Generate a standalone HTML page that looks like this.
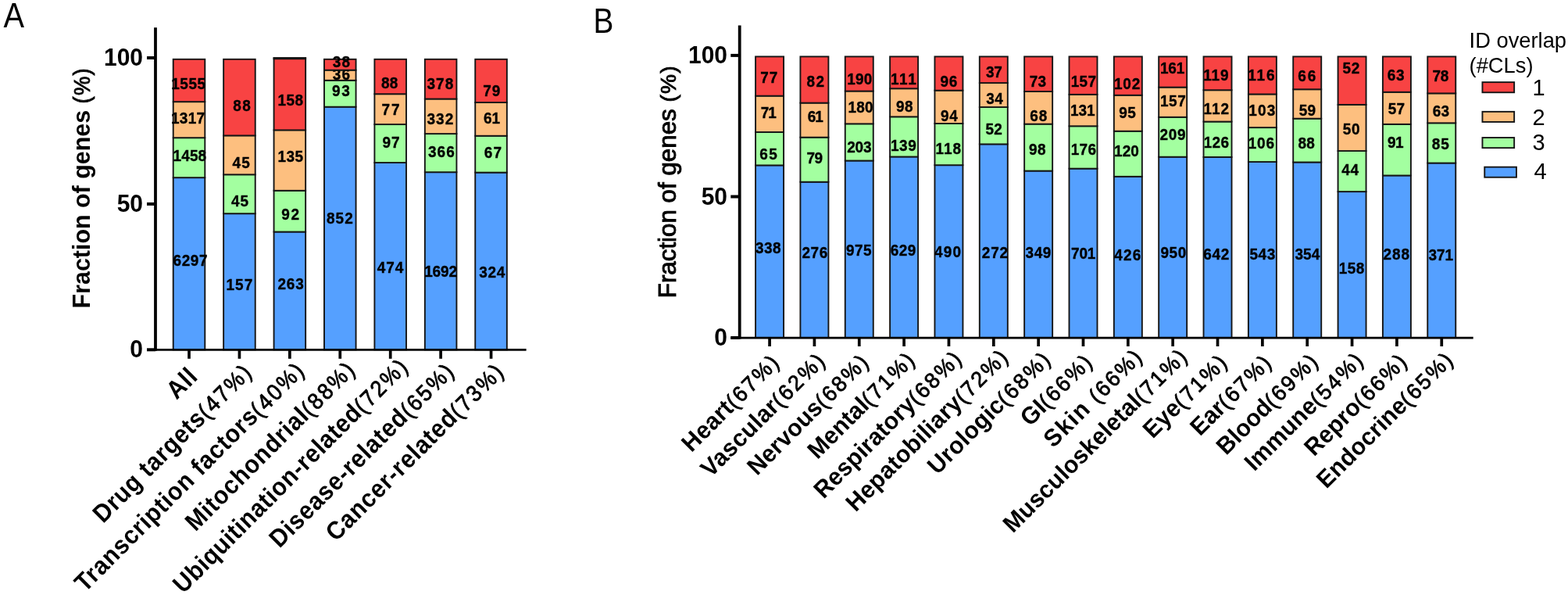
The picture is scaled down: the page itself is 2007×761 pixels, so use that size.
<!DOCTYPE html><html><head><meta charset="utf-8"><title>Figure</title><style>
html,body{margin:0;padding:0;background:#fff;}
svg{display:block;}
text{font-family:"Liberation Sans",sans-serif;fill:#000;}
.n{font-size:19px;font-weight:bold;text-anchor:middle;stroke:#000;stroke-width:0.35px;}
.tl{font-size:30px;font-weight:bold;text-anchor:end;}
.xl{font-size:30px;font-weight:bold;text-anchor:start;}
.pc{font-weight:normal;font-size:27px;stroke:#000;stroke-width:0.8px;}
.yt{font-size:30px;font-weight:bold;text-anchor:middle;}
.ax{stroke:#000;stroke-width:4;fill:none;}
.xt{stroke-width:3.7;}
.lg{font-size:26.5px;}
</style></head><body>
<svg width="2007" height="761" viewBox="0 0 2007 761">
<rect width="2007" height="761" fill="#fff"/>
<text transform="translate(4.6,34.6) scale(1,1.135)" style="font-size:39.8px">A</text>
<text transform="translate(759.6,41.7) scale(1,1.165)" style="font-size:38.8px">B</text>
<text class="yt" transform="translate(114.7,240.3) rotate(-90) scale(1.014,1.06)">Fraction of genes <tspan style="font-weight:normal;font-size:27px;stroke:#000;stroke-width:0.8px" letter-spacing="1.2">(%)</tspan></text>
<text class="yt" transform="translate(865.0,232.1) rotate(-90) scale(1.044,1.02)" style="font-weight:normal;stroke:#000;stroke-width:0.9px">Fraction of genes <tspan style="font-size:27px;stroke-width:0.8px" letter-spacing="1.2">(%)</tspan></text>
<rect x="221.71" y="227.17" width="40.60" height="220.13" fill="#55a0ff" stroke="#151515" stroke-width="1.9"/>
<text class="n" transform="translate(243.80,340.14) scale(1,1.05)" letter-spacing="0.60">6297</text>
<rect x="221.71" y="176.20" width="40.60" height="50.97" fill="#a3ffa0" stroke="#151515" stroke-width="1.9"/>
<text class="n" transform="translate(242.88,205.74) scale(1,1.05)" letter-spacing="0.17">1458</text>
<rect x="221.71" y="130.16" width="40.60" height="46.04" fill="#fdbf7f" stroke="#151515" stroke-width="1.9"/>
<text class="n" transform="translate(240.66,157.54) scale(1,1.05)" letter-spacing="0.33">1317</text>
<rect x="221.71" y="75.80" width="40.60" height="54.36" fill="#f84343" stroke="#151515" stroke-width="1.9"/>
<text class="n" transform="translate(241.38,113.74) scale(1,1.05)" letter-spacing="0.56">1555</text>
<rect x="286.13" y="273.19" width="40.60" height="174.11" fill="#55a0ff" stroke="#151515" stroke-width="1.9"/>
<text class="n" transform="translate(306.98,370.94) scale(1,1.05)" letter-spacing="1.16">157</text>
<rect x="286.13" y="223.29" width="40.60" height="49.90" fill="#a3ffa0" stroke="#151515" stroke-width="1.9"/>
<text class="n" transform="translate(307.39,263.94) scale(1,1.05)" letter-spacing="0.78">45</text>
<rect x="286.13" y="173.39" width="40.60" height="49.90" fill="#fdbf7f" stroke="#151515" stroke-width="1.9"/>
<text class="n" transform="translate(309.25,214.54) scale(1,1.05)" letter-spacing="1.10">45</text>
<rect x="286.13" y="75.80" width="40.60" height="97.59" fill="#f84343" stroke="#151515" stroke-width="1.9"/>
<text class="n" transform="translate(310.29,141.54) scale(1,1.05)" letter-spacing="1.58">88</text>
<rect x="350.56" y="296.52" width="40.60" height="150.78" fill="#55a0ff" stroke="#151515" stroke-width="1.9"/>
<text class="n" transform="translate(372.48,369.74) scale(1,1.05)" letter-spacing="0.76">263</text>
<rect x="350.56" y="243.78" width="40.60" height="52.74" fill="#a3ffa0" stroke="#151515" stroke-width="1.9"/>
<text class="n" transform="translate(372.49,280.94) scale(1,1.05)" letter-spacing="1.58">92</text>
<rect x="350.56" y="166.38" width="40.60" height="77.40" fill="#fdbf7f" stroke="#151515" stroke-width="1.9"/>
<text class="n" transform="translate(371.92,206.74) scale(1,1.05)" letter-spacing="0.44">135</text>
<rect x="350.56" y="74.10" width="40.60" height="92.28" fill="#f84343" stroke="#151515" stroke-width="1.9"/>
<text class="n" transform="translate(371.92,134.54) scale(1,1.05)" letter-spacing="0.44">158</text>
<rect x="414.98" y="136.68" width="40.60" height="310.62" fill="#55a0ff" stroke="#151515" stroke-width="1.9"/>
<text class="n" transform="translate(435.48,285.54) scale(1,1.05)" letter-spacing="1.16">852</text>
<rect x="414.98" y="102.78" width="40.60" height="33.91" fill="#a3ffa0" stroke="#151515" stroke-width="1.9"/>
<text class="n" transform="translate(437.31,122.54) scale(1,1.05)" letter-spacing="1.82">93</text>
<rect x="414.98" y="89.65" width="40.60" height="13.12" fill="#fdbf7f" stroke="#151515" stroke-width="1.9"/>
<text class="n" transform="translate(437.41,101.94) scale(1,1.05)" letter-spacing="1.02">36</text>
<rect x="414.98" y="75.80" width="40.60" height="13.85" fill="#f84343" stroke="#151515" stroke-width="1.9"/>
<text class="n" transform="translate(437.61,85.94) scale(1,1.05)" letter-spacing="1.42">38</text>
<rect x="479.41" y="208.05" width="40.60" height="239.25" fill="#55a0ff" stroke="#151515" stroke-width="1.9"/>
<text class="n" transform="translate(499.98,349.34) scale(1,1.05)" letter-spacing="0.96">474</text>
<rect x="479.41" y="159.08" width="40.60" height="48.96" fill="#a3ffa0" stroke="#151515" stroke-width="1.9"/>
<text class="n" transform="translate(501.01,189.14) scale(1,1.05)" letter-spacing="1.02">97</text>
<rect x="479.41" y="120.22" width="40.60" height="38.87" fill="#fdbf7f" stroke="#151515" stroke-width="1.9"/>
<text class="n" transform="translate(500.91,146.54) scale(1,1.05)" letter-spacing="1.82">77</text>
<rect x="479.41" y="75.80" width="40.60" height="44.42" fill="#f84343" stroke="#151515" stroke-width="1.9"/>
<text class="n" transform="translate(498.81,112.99) scale(1,1.05)" letter-spacing="0.22">88</text>
<rect x="543.84" y="220.21" width="40.60" height="227.09" fill="#55a0ff" stroke="#151515" stroke-width="1.9"/>
<text class="n" transform="translate(564.05,353.94) scale(1,1.05)" letter-spacing="-0.10">1692</text>
<rect x="543.84" y="171.09" width="40.60" height="49.12" fill="#a3ffa0" stroke="#151515" stroke-width="1.9"/>
<text class="n" transform="translate(565.46,201.14) scale(1,1.05)" letter-spacing="1.12">366</text>
<rect x="543.84" y="126.53" width="40.60" height="44.56" fill="#fdbf7f" stroke="#151515" stroke-width="1.9"/>
<text class="n" transform="translate(563.90,159.34) scale(1,1.05)" letter-spacing="1.00">332</text>
<rect x="543.84" y="75.80" width="40.60" height="50.73" fill="#f84343" stroke="#151515" stroke-width="1.9"/>
<text class="n" transform="translate(563.90,113.94) scale(1,1.05)" letter-spacing="1.00">378</text>
<rect x="608.26" y="220.62" width="40.60" height="226.68" fill="#55a0ff" stroke="#151515" stroke-width="1.9"/>
<text class="n" transform="translate(630.18,354.94) scale(1,1.05)" letter-spacing="0.76">324</text>
<rect x="608.26" y="173.75" width="40.60" height="46.87" fill="#a3ffa0" stroke="#151515" stroke-width="1.9"/>
<text class="n" transform="translate(631.39,201.94) scale(1,1.05)" letter-spacing="1.18">67</text>
<rect x="608.26" y="131.07" width="40.60" height="42.68" fill="#fdbf7f" stroke="#151515" stroke-width="1.9"/>
<text class="n" transform="translate(629.55,157.54) scale(1,1.05)" letter-spacing="-0.10">61</text>
<rect x="608.26" y="75.80" width="40.60" height="55.27" fill="#f84343" stroke="#151515" stroke-width="1.9"/>
<text class="n" transform="translate(629.81,122.54) scale(1,1.05)" letter-spacing="1.02">79</text>
<rect x="349.61" y="73.3" width="42.50" height="2.9" fill="#151515"/>
<line x1="199.0" y1="35.3" x2="199.0" y2="448.7" class="ax" style="stroke-width:3.8"/>
<line x1="188.0" y1="74.0" x2="199.0" y2="74.0" class="ax"/>
<text class="tl" transform="translate(183.0,84.00) scale(1,1.06)">100</text>
<line x1="188.0" y1="260.9" x2="199.0" y2="260.9" class="ax"/>
<text class="tl" transform="translate(183.0,270.90) scale(1,1.06)">50</text>
<line x1="188.0" y1="447.3" x2="199.0" y2="447.3" class="ax"/>
<text class="tl" transform="translate(183.0,457.30) scale(1,1.06)">0</text>
<line x1="188.0" y1="447.40000000000003" x2="673.6" y2="447.40000000000003" class="ax" style="stroke-width:2.9"/>
<line x1="242.01" y1="447.3" x2="242.01" y2="458.8" class="ax xt"/>
<text class="xl" transform="translate(225.96,512.07) rotate(-45) scale(1,1.08)"><tspan letter-spacing="0.863">All</tspan></text>
<line x1="306.44" y1="447.3" x2="306.44" y2="458.8" class="ax xt"/>
<text class="xl" transform="translate(132.03,670.14) rotate(-45) scale(1,1.08)"><tspan letter-spacing="0.827">Drug targets</tspan><tspan class="pc" letter-spacing="2.600">(47%)</tspan></text>
<line x1="370.86" y1="447.3" x2="370.86" y2="458.8" class="ax xt"/>
<text class="xl" transform="translate(108.67,758.49) rotate(-45) scale(1,1.08)"><tspan letter-spacing="0.863">Transcription factors</tspan><tspan class="pc" letter-spacing="2.600">(40%)</tspan></text>
<line x1="435.28" y1="447.3" x2="435.28" y2="458.8" class="ax xt"/>
<text class="xl" transform="translate(250.27,680.75) rotate(-45) scale(1,1.08)"><tspan letter-spacing="0.865">Mitochondrial</tspan><tspan class="pc" letter-spacing="2.600">(88%)</tspan></text>
<line x1="499.71" y1="447.3" x2="499.71" y2="458.8" class="ax xt"/>
<text class="xl" transform="translate(234.55,760.33) rotate(-45) scale(1,1.08)"><tspan letter-spacing="0.725">Ubiquitination-related</tspan><tspan class="pc" letter-spacing="2.600">(72%)</tspan></text>
<line x1="564.13" y1="447.3" x2="564.13" y2="458.8" class="ax xt"/>
<text class="xl" transform="translate(357.81,701.92) rotate(-45) scale(1,1.08)"><tspan letter-spacing="0.899">Disease-related</tspan><tspan class="pc" letter-spacing="2.600">(65%)</tspan></text>
<line x1="628.56" y1="447.3" x2="628.56" y2="458.8" class="ax xt"/>
<text class="xl" transform="translate(430.12,693.68) rotate(-45) scale(1,1.08)"><tspan letter-spacing="0.897">Cancer-related</tspan><tspan class="pc" letter-spacing="2.600">(73%)</tspan></text>
<rect x="967.08" y="211.41" width="36.00" height="220.59" fill="#55a0ff" stroke="#151515" stroke-width="1.9"/>
<text class="n" transform="translate(983.54,324.34) scale(1,1.05)" letter-spacing="0.48">338</text>
<rect x="967.08" y="168.99" width="36.00" height="42.42" fill="#a3ffa0" stroke="#151515" stroke-width="1.9"/>
<text class="n" transform="translate(984.25,203.74) scale(1,1.05)" letter-spacing="1.50">65</text>
<rect x="967.08" y="122.65" width="36.00" height="46.34" fill="#fdbf7f" stroke="#151515" stroke-width="1.9"/>
<text class="n" transform="translate(983.31,151.14) scale(1,1.05)" letter-spacing="-0.98">71</text>
<rect x="967.08" y="72.40" width="36.00" height="50.25" fill="#f84343" stroke="#151515" stroke-width="1.9"/>
<text class="n" transform="translate(984.69,105.74) scale(1,1.05)" letter-spacing="0.78">77</text>
<rect x="1024.42" y="232.70" width="36.00" height="199.30" fill="#55a0ff" stroke="#151515" stroke-width="1.9"/>
<text class="n" transform="translate(1043.14,329.54) scale(1,1.05)" letter-spacing="0.48">276</text>
<rect x="1024.42" y="175.66" width="36.00" height="57.04" fill="#a3ffa0" stroke="#151515" stroke-width="1.9"/>
<text class="n" transform="translate(1042.45,208.74) scale(1,1.05)" letter-spacing="-0.50">79</text>
<rect x="1024.42" y="131.61" width="36.00" height="44.05" fill="#fdbf7f" stroke="#151515" stroke-width="1.9"/>
<text class="n" transform="translate(1043.17,156.34) scale(1,1.05)" letter-spacing="-1.06">61</text>
<rect x="1024.42" y="72.40" width="36.00" height="59.21" fill="#f84343" stroke="#151515" stroke-width="1.9"/>
<text class="n" transform="translate(1044.45,110.54) scale(1,1.05)" letter-spacing="1.50">82</text>
<rect x="1081.77" y="205.51" width="36.00" height="226.49" fill="#55a0ff" stroke="#151515" stroke-width="1.9"/>
<text class="n" transform="translate(1099.54,327.14) scale(1,1.05)" letter-spacing="0.48">975</text>
<rect x="1081.77" y="158.35" width="36.00" height="47.16" fill="#a3ffa0" stroke="#151515" stroke-width="1.9"/>
<text class="n" transform="translate(1099.80,194.74) scale(1,1.05)" letter-spacing="-0.20">203</text>
<rect x="1081.77" y="116.54" width="36.00" height="41.81" fill="#fdbf7f" stroke="#151515" stroke-width="1.9"/>
<text class="n" transform="translate(1101.68,144.14) scale(1,1.05)" letter-spacing="0.16">180</text>
<rect x="1081.77" y="72.40" width="36.00" height="44.14" fill="#f84343" stroke="#151515" stroke-width="1.9"/>
<text class="n" transform="translate(1100.28,107.54) scale(1,1.05)" letter-spacing="0.16">190</text>
<rect x="1139.12" y="200.49" width="36.00" height="231.51" fill="#55a0ff" stroke="#151515" stroke-width="1.9"/>
<text class="n" transform="translate(1156.34,326.54) scale(1,1.05)" letter-spacing="0.48">629</text>
<rect x="1139.12" y="149.33" width="36.00" height="51.16" fill="#a3ffa0" stroke="#151515" stroke-width="1.9"/>
<text class="n" transform="translate(1156.68,193.14) scale(1,1.05)" letter-spacing="0.56">139</text>
<rect x="1139.12" y="113.26" width="36.00" height="36.07" fill="#fdbf7f" stroke="#151515" stroke-width="1.9"/>
<text class="n" transform="translate(1158.11,143.14) scale(1,1.05)" letter-spacing="0.62">98</text>
<rect x="1139.12" y="72.40" width="36.00" height="40.86" fill="#f84343" stroke="#151515" stroke-width="1.9"/>
<text class="n" transform="translate(1157.18,107.54) scale(1,1.05)" letter-spacing="1.56">111</text>
<rect x="1196.46" y="211.19" width="36.00" height="220.81" fill="#55a0ff" stroke="#151515" stroke-width="1.9"/>
<text class="n" transform="translate(1213.68,329.14) scale(1,1.05)" letter-spacing="1.16">490</text>
<rect x="1196.46" y="158.02" width="36.00" height="53.17" fill="#a3ffa0" stroke="#151515" stroke-width="1.9"/>
<text class="n" transform="translate(1214.20,196.74) scale(1,1.05)" letter-spacing="1.00">118</text>
<rect x="1196.46" y="115.66" width="36.00" height="42.36" fill="#fdbf7f" stroke="#151515" stroke-width="1.9"/>
<text class="n" transform="translate(1215.31,155.14) scale(1,1.05)" letter-spacing="0.62">94</text>
<rect x="1196.46" y="72.40" width="36.00" height="43.26" fill="#f84343" stroke="#151515" stroke-width="1.9"/>
<text class="n" transform="translate(1214.71,110.54) scale(1,1.05)" letter-spacing="0.62">96</text>
<rect x="1253.81" y="184.38" width="36.00" height="247.62" fill="#55a0ff" stroke="#151515" stroke-width="1.9"/>
<text class="n" transform="translate(1273.90,330.34) scale(1,1.05)" letter-spacing="0.80">272</text>
<rect x="1253.81" y="137.04" width="36.00" height="47.34" fill="#a3ffa0" stroke="#151515" stroke-width="1.9"/>
<text class="n" transform="translate(1272.21,172.14) scale(1,1.05)" letter-spacing="0.22">52</text>
<rect x="1253.81" y="106.08" width="36.00" height="30.95" fill="#fdbf7f" stroke="#151515" stroke-width="1.9"/>
<text class="n" transform="translate(1273.29,132.54) scale(1,1.05)" letter-spacing="0.38">34</text>
<rect x="1253.81" y="72.40" width="36.00" height="33.68" fill="#f84343" stroke="#151515" stroke-width="1.9"/>
<text class="n" transform="translate(1272.35,99.14) scale(1,1.05)" letter-spacing="-0.10">37</text>
<rect x="1311.15" y="218.56" width="36.00" height="213.44" fill="#55a0ff" stroke="#151515" stroke-width="1.9"/>
<text class="n" transform="translate(1329.30,329.74) scale(1,1.05)" letter-spacing="0.60">349</text>
<rect x="1311.15" y="158.63" width="36.00" height="59.93" fill="#a3ffa0" stroke="#151515" stroke-width="1.9"/>
<text class="n" transform="translate(1328.11,197.74) scale(1,1.05)" letter-spacing="0.62">98</text>
<rect x="1311.15" y="117.04" width="36.00" height="41.59" fill="#fdbf7f" stroke="#151515" stroke-width="1.9"/>
<text class="n" transform="translate(1329.69,155.14) scale(1,1.05)" letter-spacing="0.78">68</text>
<rect x="1311.15" y="72.40" width="36.00" height="44.64" fill="#f84343" stroke="#151515" stroke-width="1.9"/>
<text class="n" transform="translate(1328.41,110.94) scale(1,1.05)" letter-spacing="0.22">73</text>
<rect x="1368.49" y="215.62" width="36.00" height="216.38" fill="#55a0ff" stroke="#151515" stroke-width="1.9"/>
<text class="n" transform="translate(1386.60,330.54) scale(1,1.05)" letter-spacing="-0.20">701</text>
<rect x="1368.49" y="161.30" width="36.00" height="54.33" fill="#a3ffa0" stroke="#151515" stroke-width="1.9"/>
<text class="n" transform="translate(1387.08,197.74) scale(1,1.05)" letter-spacing="0.36">176</text>
<rect x="1368.49" y="120.86" width="36.00" height="40.44" fill="#fdbf7f" stroke="#151515" stroke-width="1.9"/>
<text class="n" transform="translate(1385.66,147.54) scale(1,1.05)" letter-spacing="-0.08">131</text>
<rect x="1368.49" y="72.40" width="36.00" height="48.46" fill="#f84343" stroke="#151515" stroke-width="1.9"/>
<text class="n" transform="translate(1387.08,110.94) scale(1,1.05)" letter-spacing="0.36">157</text>
<rect x="1425.84" y="225.82" width="36.00" height="206.18" fill="#55a0ff" stroke="#151515" stroke-width="1.9"/>
<text class="n" transform="translate(1443.88,332.94) scale(1,1.05)" letter-spacing="1.16">426</text>
<rect x="1425.84" y="167.74" width="36.00" height="58.08" fill="#a3ffa0" stroke="#151515" stroke-width="1.9"/>
<text class="n" transform="translate(1441.90,199.74) scale(1,1.05)" letter-spacing="0.00">120</text>
<rect x="1425.84" y="121.77" width="36.00" height="45.98" fill="#fdbf7f" stroke="#151515" stroke-width="1.9"/>
<text class="n" transform="translate(1443.29,150.54) scale(1,1.05)" letter-spacing="0.38">95</text>
<rect x="1425.84" y="72.40" width="36.00" height="49.37" fill="#f84343" stroke="#151515" stroke-width="1.9"/>
<text class="n" transform="translate(1443.02,113.94) scale(1,1.05)" letter-spacing="0.84">102</text>
<rect x="1483.18" y="200.71" width="36.00" height="231.29" fill="#55a0ff" stroke="#151515" stroke-width="1.9"/>
<text class="n" transform="translate(1502.14,330.34) scale(1,1.05)" letter-spacing="0.48">950</text>
<rect x="1483.18" y="149.82" width="36.00" height="50.88" fill="#a3ffa0" stroke="#151515" stroke-width="1.9"/>
<text class="n" transform="translate(1501.46,179.14) scale(1,1.05)" letter-spacing="0.72">209</text>
<rect x="1483.18" y="111.60" width="36.00" height="38.22" fill="#fdbf7f" stroke="#151515" stroke-width="1.9"/>
<text class="n" transform="translate(1501.68,135.54) scale(1,1.05)" letter-spacing="0.56">157</text>
<rect x="1483.18" y="72.40" width="36.00" height="39.20" fill="#f84343" stroke="#151515" stroke-width="1.9"/>
<text class="n" transform="translate(1500.50,93.94) scale(1,1.05)" letter-spacing="-0.20">161</text>
<rect x="1540.53" y="200.91" width="36.00" height="231.09" fill="#55a0ff" stroke="#151515" stroke-width="1.9"/>
<text class="n" transform="translate(1557.10,331.94) scale(1,1.05)" letter-spacing="0.60">642</text>
<rect x="1540.53" y="155.55" width="36.00" height="45.35" fill="#a3ffa0" stroke="#151515" stroke-width="1.9"/>
<text class="n" transform="translate(1557.08,189.14) scale(1,1.05)" letter-spacing="0.36">126</text>
<rect x="1540.53" y="115.24" width="36.00" height="40.32" fill="#fdbf7f" stroke="#151515" stroke-width="1.9"/>
<text class="n" transform="translate(1557.38,146.14) scale(1,1.05)" letter-spacing="0.96">112</text>
<rect x="1540.53" y="72.40" width="36.00" height="42.84" fill="#f84343" stroke="#151515" stroke-width="1.9"/>
<text class="n" transform="translate(1556.78,102.54) scale(1,1.05)" letter-spacing="0.76">119</text>
<rect x="1597.88" y="207.04" width="36.00" height="224.96" fill="#55a0ff" stroke="#151515" stroke-width="1.9"/>
<text class="n" transform="translate(1616.14,332.14) scale(1,1.05)" letter-spacing="0.48">543</text>
<rect x="1597.88" y="163.13" width="36.00" height="43.91" fill="#a3ffa0" stroke="#151515" stroke-width="1.9"/>
<text class="n" transform="translate(1614.86,189.74) scale(1,1.05)" letter-spacing="0.92">106</text>
<rect x="1597.88" y="120.46" width="36.00" height="42.67" fill="#fdbf7f" stroke="#151515" stroke-width="1.9"/>
<text class="n" transform="translate(1616.00,147.54) scale(1,1.05)" letter-spacing="1.20">103</text>
<rect x="1597.88" y="72.40" width="36.00" height="48.06" fill="#f84343" stroke="#151515" stroke-width="1.9"/>
<text class="n" transform="translate(1615.26,102.94) scale(1,1.05)" letter-spacing="1.72">116</text>
<rect x="1655.22" y="207.49" width="36.00" height="224.51" fill="#55a0ff" stroke="#151515" stroke-width="1.9"/>
<text class="n" transform="translate(1673.44,331.94) scale(1,1.05)" letter-spacing="0.08">354</text>
<rect x="1655.22" y="151.68" width="36.00" height="55.81" fill="#a3ffa0" stroke="#151515" stroke-width="1.9"/>
<text class="n" transform="translate(1672.17,189.74) scale(1,1.05)" letter-spacing="0.14">88</text>
<rect x="1655.22" y="114.26" width="36.00" height="37.42" fill="#fdbf7f" stroke="#151515" stroke-width="1.9"/>
<text class="n" transform="translate(1673.41,147.54) scale(1,1.05)" letter-spacing="0.22">59</text>
<rect x="1655.22" y="72.40" width="36.00" height="41.86" fill="#f84343" stroke="#151515" stroke-width="1.9"/>
<text class="n" transform="translate(1673.71,103.94) scale(1,1.05)" letter-spacing="1.82">66</text>
<rect x="1712.57" y="245.10" width="36.00" height="186.90" fill="#55a0ff" stroke="#151515" stroke-width="1.9"/>
<text class="n" transform="translate(1730.26,349.54) scale(1,1.05)" letter-spacing="0.52">158</text>
<rect x="1712.57" y="193.06" width="36.00" height="52.05" fill="#a3ffa0" stroke="#151515" stroke-width="1.9"/>
<text class="n" transform="translate(1728.55,223.54) scale(1,1.05)" letter-spacing="0.70">44</text>
<rect x="1712.57" y="133.91" width="36.00" height="59.14" fill="#fdbf7f" stroke="#151515" stroke-width="1.9"/>
<text class="n" transform="translate(1730.05,172.14) scale(1,1.05)" letter-spacing="0.70">50</text>
<rect x="1712.57" y="72.40" width="36.00" height="61.51" fill="#f84343" stroke="#151515" stroke-width="1.9"/>
<text class="n" transform="translate(1729.71,94.14) scale(1,1.05)" letter-spacing="0.62">52</text>
<rect x="1769.91" y="224.46" width="36.00" height="207.54" fill="#55a0ff" stroke="#151515" stroke-width="1.9"/>
<text class="n" transform="translate(1787.72,331.94) scale(1,1.05)" letter-spacing="0.84">288</text>
<rect x="1769.91" y="158.88" width="36.00" height="65.58" fill="#a3ffa0" stroke="#151515" stroke-width="1.9"/>
<text class="n" transform="translate(1786.05,189.14) scale(1,1.05)" letter-spacing="-0.50">91</text>
<rect x="1769.91" y="117.80" width="36.00" height="41.08" fill="#fdbf7f" stroke="#151515" stroke-width="1.9"/>
<text class="n" transform="translate(1787.55,146.14) scale(1,1.05)" letter-spacing="0.30">57</text>
<rect x="1769.91" y="72.40" width="36.00" height="45.40" fill="#f84343" stroke="#151515" stroke-width="1.9"/>
<text class="n" transform="translate(1786.91,102.74) scale(1,1.05)" letter-spacing="0.62">63</text>
<rect x="1827.26" y="208.53" width="36.00" height="223.47" fill="#55a0ff" stroke="#151515" stroke-width="1.9"/>
<text class="n" transform="translate(1844.16,332.74) scale(1,1.05)" letter-spacing="-0.08">371</text>
<rect x="1827.26" y="157.33" width="36.00" height="51.20" fill="#a3ffa0" stroke="#151515" stroke-width="1.9"/>
<text class="n" transform="translate(1844.31,191.14) scale(1,1.05)" letter-spacing="1.02">85</text>
<rect x="1827.26" y="119.38" width="36.00" height="37.95" fill="#fdbf7f" stroke="#151515" stroke-width="1.9"/>
<text class="n" transform="translate(1844.57,149.14) scale(1,1.05)" letter-spacing="0.14">63</text>
<rect x="1827.26" y="72.40" width="36.00" height="46.98" fill="#f84343" stroke="#151515" stroke-width="1.9"/>
<text class="n" transform="translate(1843.87,103.94) scale(1,1.05)" letter-spacing="-0.26">78</text>
<line x1="946.7" y1="32.5" x2="946.7" y2="433.4" class="ax" style="stroke-width:3.8"/>
<line x1="935.3" y1="70.9" x2="946.7" y2="70.9" class="ax"/>
<text class="tl" transform="translate(931.0,80.90) scale(1,1.06)">100</text>
<line x1="935.3" y1="251.5" x2="946.7" y2="251.5" class="ax"/>
<text class="tl" transform="translate(931.0,261.50) scale(1,1.06)">50</text>
<line x1="935.3" y1="432.0" x2="946.7" y2="432.0" class="ax"/>
<text class="tl" transform="translate(931.0,442.00) scale(1,1.06)">0</text>
<line x1="935.3" y1="432.1" x2="1885.7" y2="432.1" class="ax" style="stroke-width:2.9"/>
<line x1="985.08" y1="432.0" x2="985.08" y2="443.0" class="ax xt"/>
<text class="xl" transform="translate(885.10,579.42) rotate(-45) scale(1,1.035)"><tspan letter-spacing="0.311">Heart</tspan><tspan class="pc" letter-spacing="2.600">(67%)</tspan></text>
<line x1="1042.42" y1="432.0" x2="1042.42" y2="443.0" class="ax xt"/>
<text class="xl" transform="translate(909.51,611.73) rotate(-45) scale(1,1.035)"><tspan letter-spacing="0.407">Vascular</tspan><tspan class="pc" letter-spacing="2.600">(62%)</tspan></text>
<line x1="1099.77" y1="432.0" x2="1099.77" y2="443.0" class="ax xt"/>
<text class="xl" transform="translate(969.00,609.37) rotate(-45) scale(1,1.035)"><tspan letter-spacing="0.186">Nervous</tspan><tspan class="pc" letter-spacing="2.600">(68%)</tspan></text>
<line x1="1157.12" y1="432.0" x2="1157.12" y2="443.0" class="ax xt"/>
<text class="xl" transform="translate(1046.34,588.45) rotate(-45) scale(1,1.035)"><tspan letter-spacing="0.096">Mental</tspan><tspan class="pc" letter-spacing="2.600">(71%)</tspan></text>
<line x1="1214.46" y1="432.0" x2="1214.46" y2="443.0" class="ax xt"/>
<text class="xl" transform="translate(1054.14,639.05) rotate(-45) scale(1,1.035)"><tspan letter-spacing="0.237">Respiratory</tspan><tspan class="pc" letter-spacing="2.600">(68%)</tspan></text>
<line x1="1271.81" y1="432.0" x2="1271.81" y2="443.0" class="ax xt"/>
<text class="xl" transform="translate(1095.13,655.69) rotate(-45) scale(1,1.035)"><tspan letter-spacing="0.427">Hepatobiliary</tspan><tspan class="pc" letter-spacing="2.600">(72%)</tspan></text>
<line x1="1329.15" y1="432.0" x2="1329.15" y2="443.0" class="ax xt"/>
<text class="xl" transform="translate(1199.81,608.15) rotate(-45) scale(1,1.035)"><tspan letter-spacing="0.310">Urologic</tspan><tspan class="pc" letter-spacing="2.600">(68%)</tspan></text>
<line x1="1386.49" y1="432.0" x2="1386.49" y2="443.0" class="ax xt"/>
<text class="xl" transform="translate(1318.43,546.38) rotate(-45) scale(1,1.035)"><tspan letter-spacing="0.213">GI</tspan><tspan class="pc" letter-spacing="2.600">(66%)</tspan></text>
<line x1="1443.84" y1="432.0" x2="1443.84" y2="443.0" class="ax xt"/>
<text class="xl" transform="translate(1348.32,573.84) rotate(-45) scale(1,1.035)"><tspan letter-spacing="1.674">Skin </tspan><tspan class="pc" letter-spacing="2.600">(66%)</tspan></text>
<line x1="1501.18" y1="432.0" x2="1501.18" y2="443.0" class="ax xt"/>
<text class="xl" transform="translate(1296.47,682.81) rotate(-45) scale(1,1.035)"><tspan letter-spacing="0.229">Musculoskeletal</tspan><tspan class="pc" letter-spacing="2.600">(71%)</tspan></text>
<line x1="1558.53" y1="432.0" x2="1558.53" y2="443.0" class="ax xt"/>
<text class="xl" transform="translate(1475.60,562.09) rotate(-45) scale(1,1.035)"><tspan letter-spacing="0.168">Eye</tspan><tspan class="pc" letter-spacing="2.600">(71%)</tspan></text>
<line x1="1615.88" y1="432.0" x2="1615.88" y2="443.0" class="ax xt"/>
<text class="xl" transform="translate(1535.93,558.83) rotate(-45) scale(1,1.035)"><tspan letter-spacing="0.093">Ear</tspan><tspan class="pc" letter-spacing="2.600">(67%)</tspan></text>
<line x1="1673.22" y1="432.0" x2="1673.22" y2="443.0" class="ax xt"/>
<text class="xl" transform="translate(1569.61,583.26) rotate(-45) scale(1,1.035)"><tspan letter-spacing="0.085">Blood</tspan><tspan class="pc" letter-spacing="2.600">(69%)</tspan></text>
<line x1="1730.57" y1="432.0" x2="1730.57" y2="443.0" class="ax xt"/>
<text class="xl" transform="translate(1605.53,603.77) rotate(-45) scale(1,1.035)"><tspan letter-spacing="0.263">Immune</tspan><tspan class="pc" letter-spacing="2.600">(54%)</tspan></text>
<line x1="1787.91" y1="432.0" x2="1787.91" y2="443.0" class="ax xt"/>
<text class="xl" transform="translate(1682.07,584.86) rotate(-45) scale(1,1.035)"><tspan letter-spacing="0.160">Repro</tspan><tspan class="pc" letter-spacing="2.600">(66%)</tspan></text>
<line x1="1845.26" y1="432.0" x2="1845.26" y2="443.0" class="ax xt"/>
<text class="xl" transform="translate(1697.76,626.09) rotate(-45) scale(1,1.035)"><tspan letter-spacing="0.234">Endocrine</tspan><tspan class="pc" letter-spacing="2.600">(65%)</tspan></text>
<text class="lg" x="1880.6" y="61.0" style="font-size:27.3px">ID overlap</text>
<text class="lg" x="1880.6" y="92.6" style="font-size:27.3px">(#CLs)</text>
<rect x="1897.45" y="105.15" width="40.70" height="13.10" fill="#f84343" stroke="#151515" stroke-width="1.9"/>
<text class="lg" x="1961.6" y="121.5" style="font-size:29px">1</text>
<rect x="1897.45" y="142.85" width="40.70" height="13.10" fill="#fdbf7f" stroke="#151515" stroke-width="1.9"/>
<text class="lg" x="1961.6" y="159.7" style="font-size:29px">2</text>
<rect x="1897.45" y="176.05" width="40.70" height="13.10" fill="#a3ffa0" stroke="#151515" stroke-width="1.9"/>
<text class="lg" x="1961.6" y="192.4" style="font-size:29px">3</text>
<rect x="1900.25" y="213.65" width="40.70" height="13.10" fill="#55a0ff" stroke="#151515" stroke-width="1.9"/>
<text class="lg" x="1963.3999999999999" y="229.2" style="font-size:29px">4</text>
</svg></body></html>
